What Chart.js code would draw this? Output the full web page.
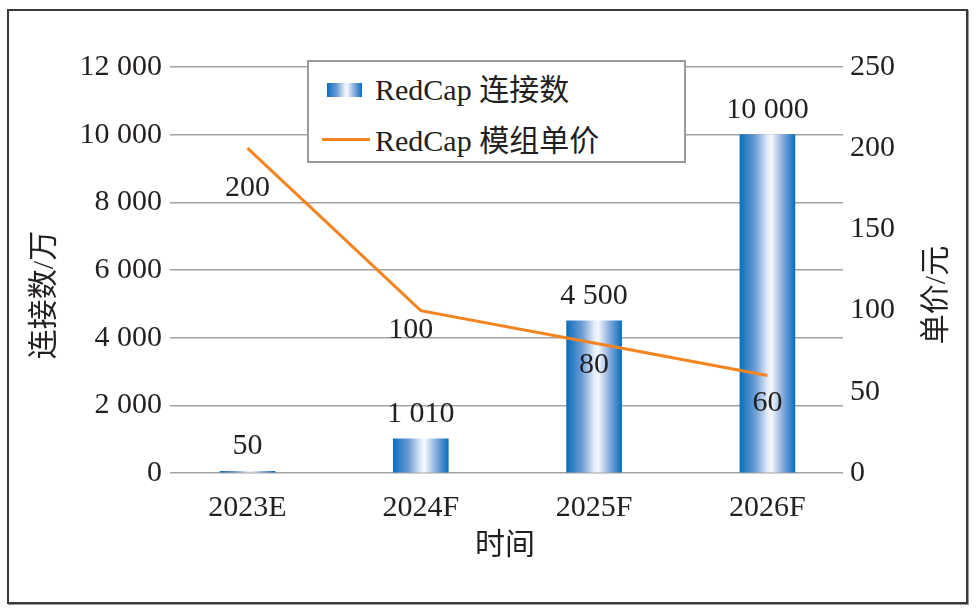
<!DOCTYPE html>
<html>
<head>
<meta charset="utf-8">
<script src="https://cdn.jsdelivr.net/npm/chart.js@4"></script>
<style>
  body { margin:0; background:#fff; }
  #wrap { position:relative; width:976px; height:611px; }
  #frame { position:absolute; left:7px; top:9px; width:957px; height:591px; border:2px solid #3a3a3a; box-shadow:1px 1px 0 #9a9a9a; pointer-events:none; }
  #legend { position:absolute; left:307px; top:60px; width:375px; height:99px; background:#fff; border:2px solid #9a9a9a;
    font-family:'Liberation Serif','Noto Sans CJK SC',serif; font-size:30px; color:#231f20; }
  #legend .row { position:absolute; left:0; height:34px; line-height:34px; white-space:nowrap; }
  #legend .sw { position:absolute; }
  #legend .txt { position:absolute; left:66px; top:0; }
</style>
</head>
<body>
<div id="wrap">
  <canvas id="c" width="976" height="611"></canvas>
  <div id="legend"></div>
  <div id="frame"></div>
</div>
<script>
// 数据
const categories = ["2023E", "2024F", "2025F", "2026F"];
const connections = [50, 1010, 4500, 10000];      // 万
const modulePrice = [200, 100, 80, 60];            // 元
const seriesNames = ["RedCap 连接数", "RedCap 模组单价"];
const axisTitles = { left: "连接数/万", right: "单价/元", bottom: "时间" };

// 线标签的微调（样式）
const lineLabelDy = [40, 20, 22, 28];
const lineLabelDx = [0, -10, 0, 0];

const FONT = "'Liberation Serif','Noto Sans CJK SC',serif";
const TXT = "#231f20";
const BAR_W = 55;
const ORANGE = "#f3841f";

const fmt = v => String(v).replace(/\B(?=(\d{3})+(?!\d))/g, " ");

function barGradient(ctx2d, x0, x1) {
  let g = ctx2d.createLinearGradient(x0, 0, x1, 0);
  g.addColorStop(0, "#0b6ebd");
  g.addColorStop(0.28, "#6d9dd5");
  g.addColorStop(0.5, "#e2ebf8");
  g.addColorStop(0.57, "#f6f9fd");
  g.addColorStop(0.78, "#86abdc");
  g.addColorStop(1, "#0b6ebd");
  return g;
}

// 标签 + 轴标题
const labelPlugin = {
  id: "labels",
  afterDatasetsDraw(chart) {
    let ctx = chart.ctx;
    ctx.save();
    ctx.font = "30px " + FONT;
    ctx.fillStyle = TXT;
    ctx.textAlign = "center";
    ctx.textBaseline = "middle";
    chart.getDatasetMeta(1).data.forEach((el, i) => {
      ctx.fillText(fmt(connections[i]), el.x, el.y - 25);
    });
    chart.getDatasetMeta(0).data.forEach((el, i) => {
      ctx.fillText(fmt(modulePrice[i]), el.x + lineLabelDx[i], el.y + lineLabelDy[i]);
    });
    // y 轴标题（都从下往上读）
    [[axisTitles.left, 45, 295], [axisTitles.right, 937, 295]].forEach(([t, x, y]) => {
      ctx.save();
      ctx.translate(x, y);
      ctx.rotate(-Math.PI / 2);
      ctx.fillText(t, 0, 0);
      ctx.restore();
    });
    ctx.fillText(axisTitles.bottom, 505, 546);
    ctx.restore();
  }
};

let chart = new Chart(document.getElementById("c"), {
  data: {
    datasets: [
      {
        type: "line", label: seriesNames[1], order: 0, yAxisID: "y1",
        data: modulePrice.map((v, i) => ({ x: i, y: v })),
        borderColor: ORANGE, borderWidth: 3, pointRadius: 0, tension: 0
      },
      {
        type: "bar", label: seriesNames[0], order: 1, yAxisID: "y",
        data: connections.map((v, i) => ({ x: i, y: v })),
        barThickness: BAR_W, borderWidth: 0,
        backgroundColor: c => {
          let ch = c.chart;
          if (!ch.chartArea) return "#0b6ebd";
          let x = ch.scales.x.getPixelForValue(c.dataIndex);
          return barGradient(ch.ctx, x - BAR_W / 2, x + BAR_W / 2);
        }
      }
    ]
  },
  options: {
    responsive: false,
    animation: false,
    layout: { padding: { top: 67, left: 0, right: 0, bottom: 0 } },
    plugins: { legend: { display: false }, tooltip: { enabled: false } },
    scales: {
      x: {
        type: "linear", min: -0.447, max: 3.436, offset: false,
        grid: { display: false }, border: { display: false },
        ticks: {
          stepSize: 1, includeBounds: false, padding: 9, color: TXT,
          font: { family: FONT, size: 30 },
          callback: v => Number.isInteger(v) ? categories[v] : ""
        },
        afterFit: s => { s.height = 138; }
      },
      y: {
        position: "left", min: 0, max: 12000,
        grid: { color: "#a3a3a3", lineWidth: 1.5, drawTicks: false },
        border: { display: false },
        ticks: { stepSize: 2000, padding: 8, color: TXT, font: { family: FONT, size: 30 }, callback: v => fmt(v) },
        afterFit: s => { s.width = 170; }
      },
      y1: {
        position: "right", min: 0, max: 250,
        grid: { display: false, drawTicks: false },
        border: { display: false },
        ticks: { stepSize: 50, padding: 7, color: TXT, font: { family: FONT, size: 30 } },
        afterFit: s => { s.width = 133; }
      }
    }
  },
  plugins: [labelPlugin]
});

// 图例（HTML）
let lg = document.getElementById("legend");
lg.innerHTML =
  `<div class="row" style="top:11px"><span class="sw" style="left:18px;top:10px;width:35px;height:14px;background:linear-gradient(to right,#0b6ebd,#6d9dd5 28%,#e2ebf8 50%,#f6f9fd 57%,#86abdc 78%,#0b6ebd)"></span><span class="txt">${seriesNames[0]}</span></div>` +
  `<div class="row" style="top:62px"><span class="sw" style="left:13px;top:14px;width:48px;height:3px;background:${ORANGE}"></span><span class="txt">${seriesNames[1]}</span></div>`;
</script>
</body>
</html>
